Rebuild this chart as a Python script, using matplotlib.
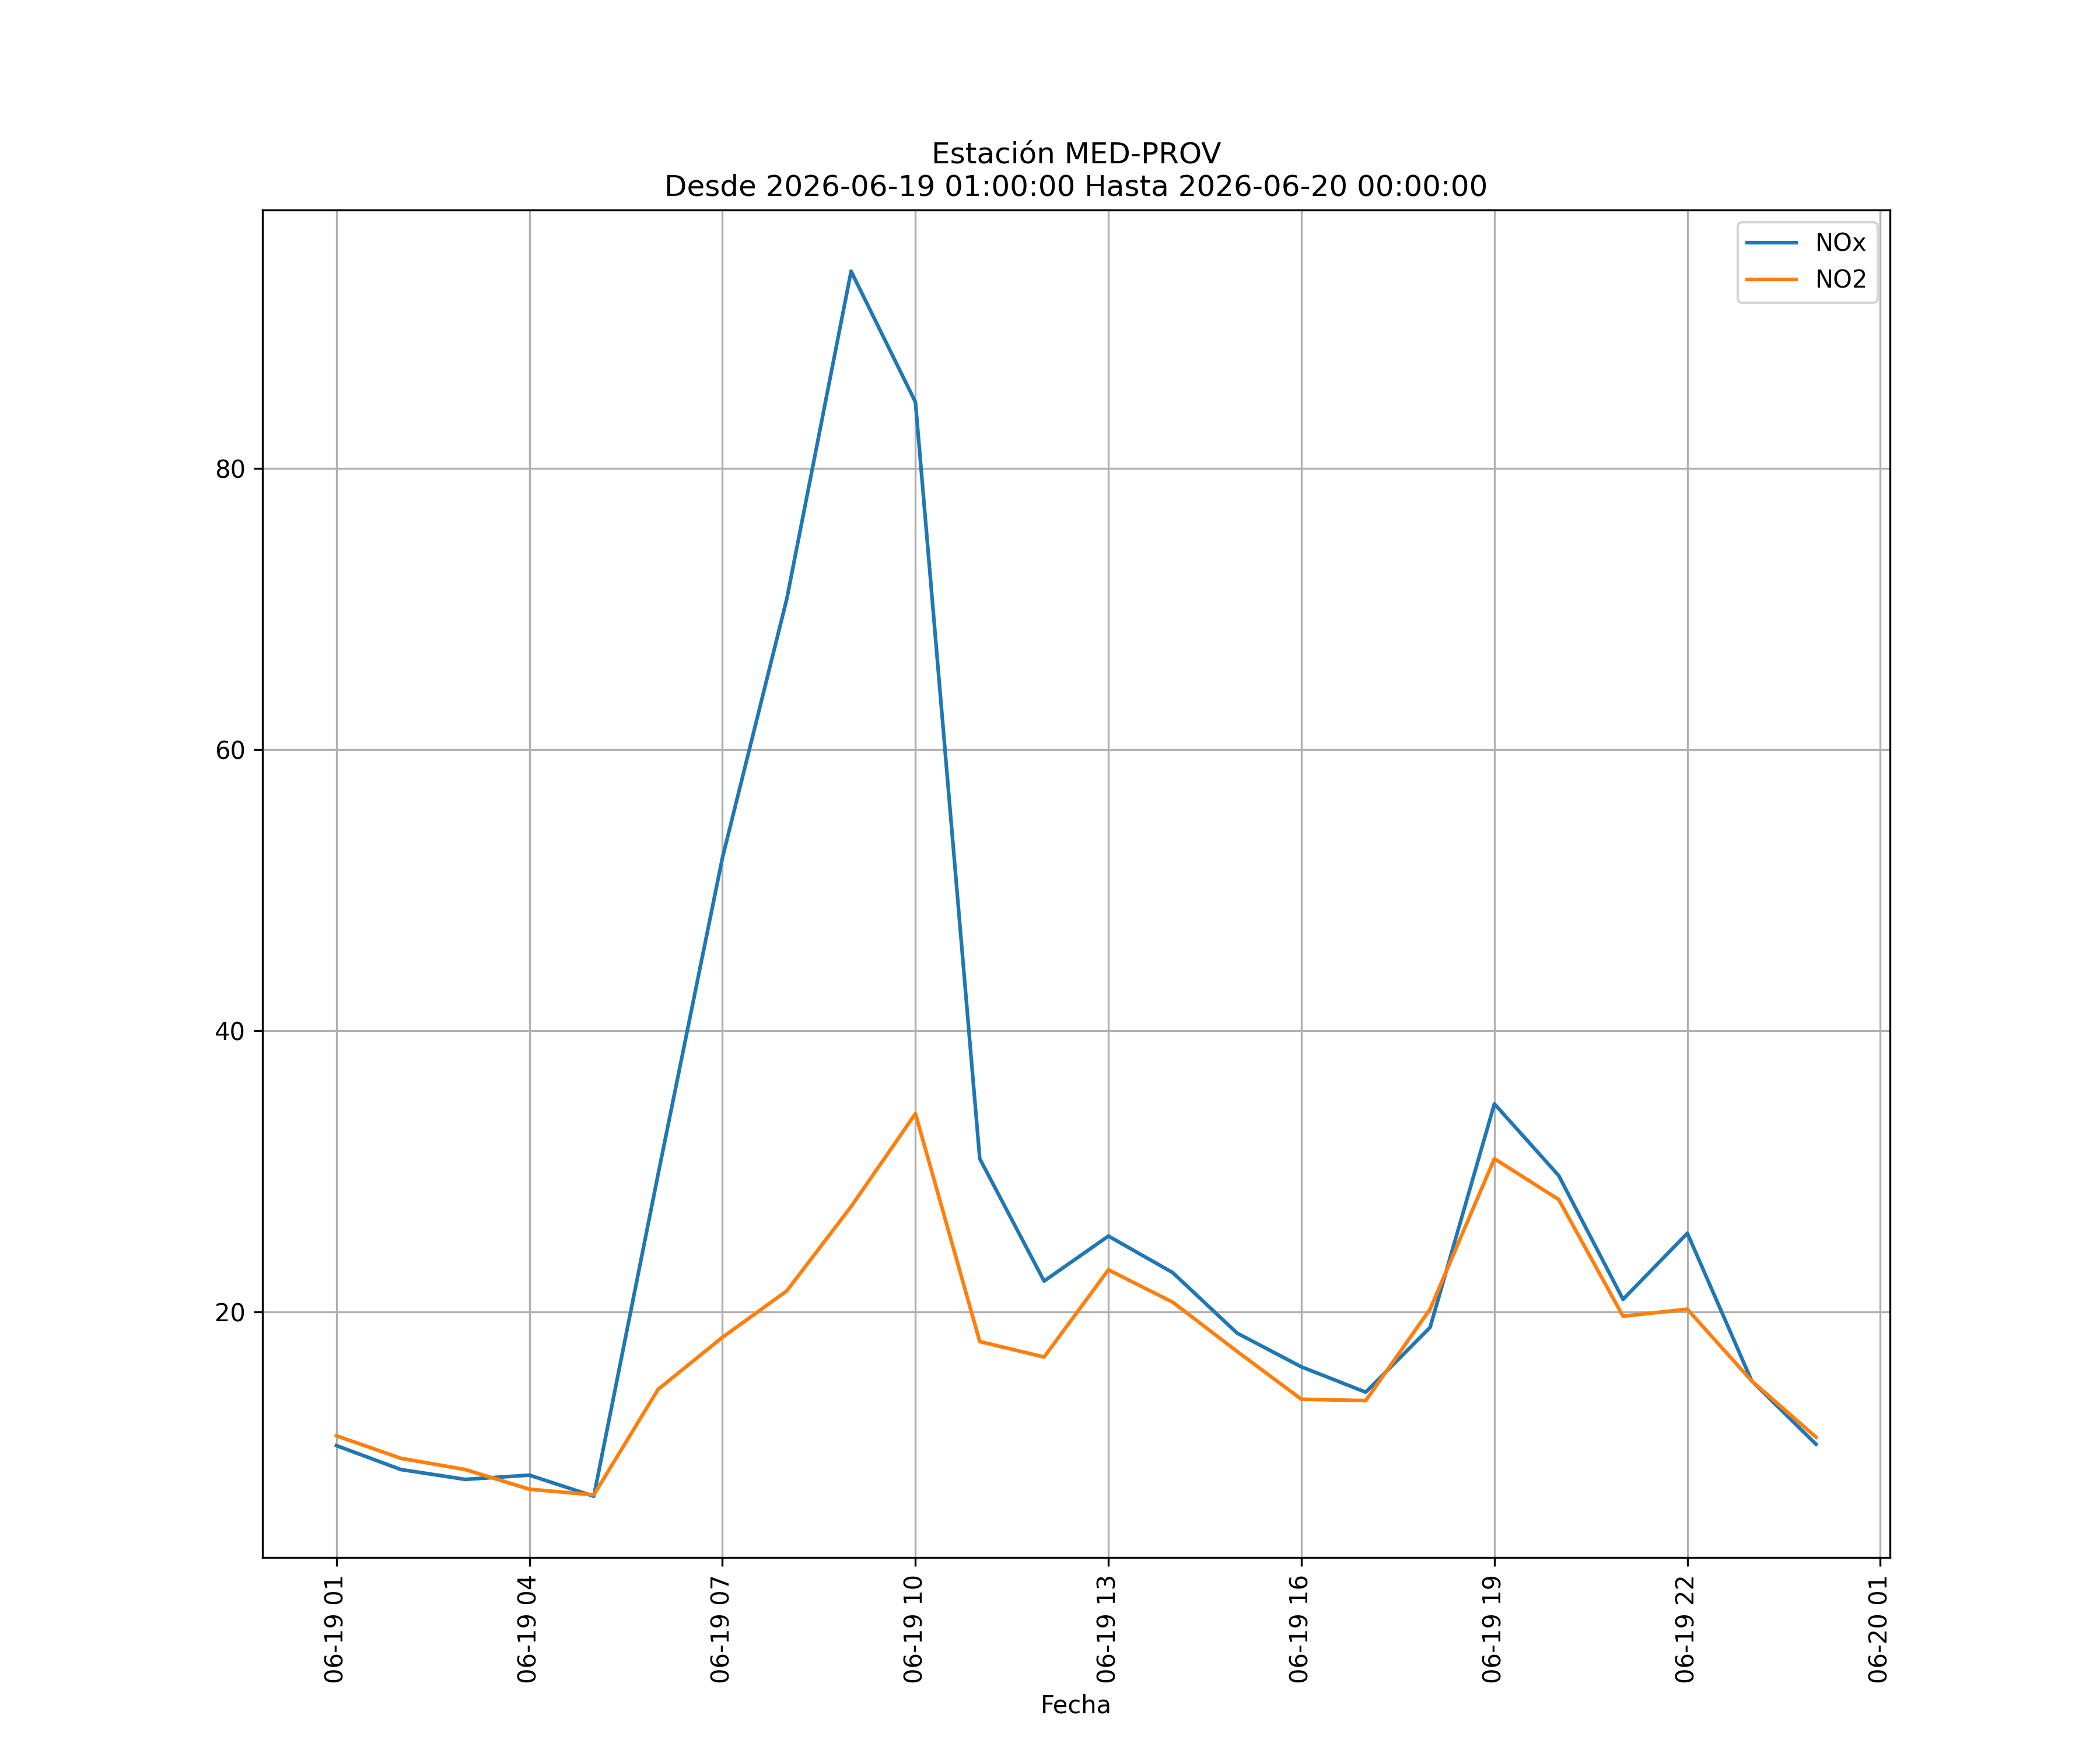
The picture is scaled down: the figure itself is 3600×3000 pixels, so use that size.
import matplotlib
matplotlib.use("Agg")
import matplotlib.pyplot as plt
import matplotlib.dates as mdates
import pandas as pd

# hourly values for the station
fechas = pd.date_range("2026-06-19 01:00:00", "2026-06-20 00:00:00", freq="h")

nox = [10.5, 8.8, 8.1, 8.4, 6.9, 29.8, 52.3, 70.7, 94.0, 84.7, 30.9, 22.2,
       25.4, 22.8, 18.5, 16.1, 14.3, 18.9, 34.8, 29.7, 20.9, 25.6, 15.1, 10.6]
no2 = [11.2, 9.6, 8.8, 7.4, 7.0, 14.5, 18.2, 21.5, 27.5, 34.1, 17.9, 16.8,
       23.0, 20.7, 17.2, 13.8, 13.7, 20.2, 30.9, 28.0, 19.7, 20.2, 15.1, 11.1]

estacion = "MED-PROV"
desde = "2026-06-19 01:00:00"
hasta = "2026-06-20 00:00:00"

fig, ax = plt.subplots(figsize=(12, 10))

ax.plot(fechas, nox, label="NOx")
ax.plot(fechas, no2, label="NO2")

ax.set_title(f"Estación {estacion}\nDesde {desde} Hasta {hasta}")
ax.set_xlabel("Fecha")
ax.legend(loc="upper right")
ax.grid(True)

ax.xaxis.set_major_locator(mdates.HourLocator(byhour=range(1, 24, 3)))
ax.xaxis.set_major_formatter(mdates.DateFormatter("%m-%d %H"))
plt.setp(ax.get_xticklabels(), rotation=90)

fig.savefig("out.png", dpi=300)
